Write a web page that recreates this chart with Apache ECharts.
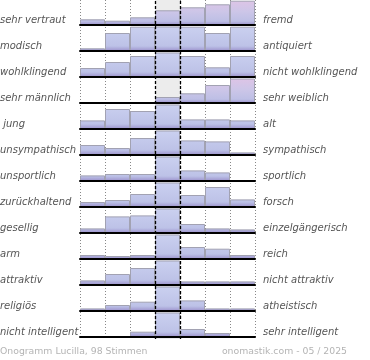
<!DOCTYPE html>
<html>
<head>
<meta charset="utf-8">
<script src="https://cdn.jsdelivr.net/npm/echarts@6/dist/echarts.min.js"></script>
<style>html,body{margin:0;padding:0;background:#fff}#c{width:370px;height:360px}</style>
</head>
<body>
<div id="c"></div>
<script>
const categories = ['1','2','3','4','5','6','7'];
const leftLabels = ['sehr vertraut','modisch','wohlklingend','sehr männlich',' jung','unsympathisch','unsportlich','zurückhaltend','gesellig','arm','attraktiv','religiös','nicht intelligent'];
const rightLabels = ['fremd','antiquiert','nicht wohlklingend','sehr weiblich','alt','sympathisch','sportlich','forsch','einzelgängerisch','reich','nicht attraktiv','atheistisch','sehr intelligent'];
const vertraut = [5.7, 4.3, 7.7, 14.7, 17.7, 20.7, 24.3];
const modisch = [2.7, 18, 24.3, 24.5, 24.3, 18, 24.3];
const wohlklingend = [9, 15, 21, 24.5, 21, 9.7, 21];
const maennlich = [0, 0, 0, 6, 9.7, 18, 24.5];
const jung = [8.6, 20, 18, 24.5, 9.6, 9.6, 8.6];
const sympathisch = [10, 7, 17, 24.5, 14.6, 13.6, 2.6];
const sportlich = [5.6, 7, 7, 24.5, 10.6, 8.6, 0];
const forsch = [5, 7, 13, 24.5, 12, 20, 7.6];
const gesellig = [4.6, 16.6, 17.6, 24.5, 9, 4.6, 3.6];
const reich = [4, 3, 4, 24.5, 12, 10.3, 4];
const attraktiv = [4.6, 11, 17, 24.5, 3.6, 3.6, 3.6];
const religioes = [2.6, 6, 9.3, 24.5, 10.6, 2.6, 2.6];
const intelligent = [0, 0, 5.3, 24.5, 8, 4, 0];
const footerLeft = 'Onogramm Lucilla, 98 Stimmen';
const footerRight = 'onomastik.com - 05 / 2025';

const rows = [vertraut, modisch, wohlklingend, maennlich, jung, sympathisch, sportlich, forsch, gesellig, reich, attraktiv, religioes, intelligent];
const pinkRows = [0, 3];
const ROW = 26, H = 25, LEFT = 80, W = 175;

const grid = [], xAxis = [], yAxis = [], series = [], graphic = [];
rows.forEach((vals, i) => {
  const top = ROW * i;
  grid.push({left: LEFT, width: W, top: top, height: H});
  xAxis.push({type: 'category', gridIndex: i, data: categories, boundaryGap: true, z: 10,
    axisLine: {show: true, lineStyle: {color: '#000', width: 2}}, axisTick: {show: false}, axisLabel: {show: false}, splitLine: {show: false}});
  yAxis.push({type: 'value', gridIndex: i, min: 0, max: 25, show: false});
  const pink = pinkRows.includes(i);
  const stops = pink
    ? [{offset: 0, color: '#dec4e6'}, {offset: 0.45, color: '#cdc6e8'}, {offset: 0.85, color: '#bdbfe5'}, {offset: 1, color: '#9c92cc'}]
    : [{offset: 0, color: '#cbd1f0'}, {offset: 0.8, color: '#bdc2e7'}, {offset: 1, color: '#9c92cc'}];
  series.push({type: 'bar', xAxisIndex: i, yAxisIndex: i, data: vals, barCategoryGap: '0%', z: 2,
    itemStyle: {color: new echarts.graphic.LinearGradient(0, top, 0, top + H, stops, true), borderColor: '#a2a2b2', borderWidth: 1},
    silent: true});
  graphic.push({type: 'text', x: 0, y: top + 20, style: {text: leftLabels[i], font: 'italic 10px "DejaVu Sans"', fill: '#555', verticalAlign: 'middle', align: 'left'}});
  graphic.push({type: 'text', x: 263, y: top + 20, style: {text: rightLabels[i], font: 'italic 10px "DejaVu Sans"', fill: '#555', verticalAlign: 'middle', align: 'left'}});
});

// overlay grid for column dividers
const ov = rows.length;
grid.push({left: LEFT, width: W, top: 0, height: 339});
xAxis.push({type: 'value', gridIndex: ov, min: 0, max: 7, interval: 1, axisLine: {show: false}, axisTick: {show: false}, axisLabel: {show: false},
  splitLine: {show: true, lineStyle: {color: '#888', type: [1, 2], width: 1}}});
yAxis.push({type: 'value', gridIndex: ov, min: 0, max: 1, show: false});
series.push({type: 'scatter', xAxisIndex: ov, yAxisIndex: ov, data: [[0, 0]], symbolSize: 0, z: 1, silent: true,
  markArea: {silent: true, itemStyle: {color: '#ececec'}, data: [[{xAxis: 3}, {xAxis: 4}]]}});
series.push({type: 'scatter', xAxisIndex: ov, yAxisIndex: ov, data: [[0, 0]], symbolSize: 0, z: 11, silent: true,
  markLine: {silent: true, symbol: 'none', label: {show: false}, lineStyle: {color: '#000', type: [3, 2], width: 1.3}, data: [{xAxis: 3}, {xAxis: 4}]}});

graphic.push({type: 'text', x: 0, y: 352, style: {text: footerLeft, font: '9.3px "DejaVu Sans"', fill: '#b4b4b4', verticalAlign: 'middle', align: 'left'}});
graphic.push({type: 'text', x: 347, y: 352, style: {text: footerRight, font: '9.3px "DejaVu Sans"', fill: '#b4b4b4', verticalAlign: 'middle', align: 'right'}});

const chart = echarts.init(document.getElementById('c'), null, {renderer: 'canvas'});
chart.setOption({animation: false, grid, xAxis, yAxis, series, graphic});
</script>
</body>
</html>
